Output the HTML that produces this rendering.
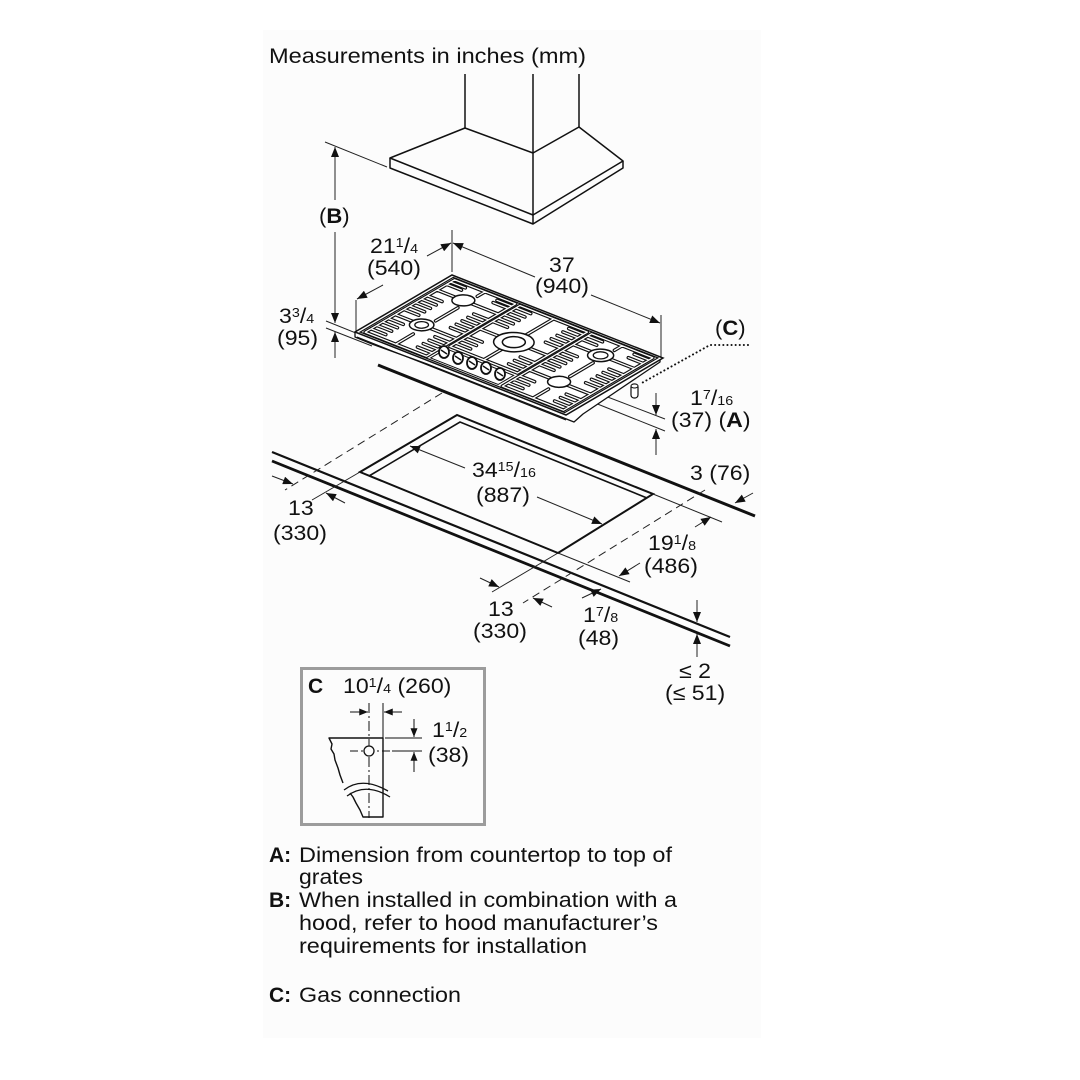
<!DOCTYPE html>
<html><head><meta charset="utf-8"><style>
html,body{margin:0;padding:0;background:#fff;}
svg{display:block;}
text{font-family:"Liberation Sans",Arial,sans-serif;font-size:21px;fill:#111;}
.b{font-weight:bold;}
</style></head><body>
<svg width="1080" height="1080" viewBox="0 0 1080 1080" xmlns="http://www.w3.org/2000/svg">
<defs>
<marker id="a" viewBox="0 0 10 8" refX="10" refY="4" markerWidth="11" markerHeight="8" markerUnits="userSpaceOnUse" orient="auto"><path d="M0,0L10,4L0,8z" fill="#111"/></marker>
<marker id="s" viewBox="0 0 10 8" refX="10" refY="4" markerWidth="9" markerHeight="7" markerUnits="userSpaceOnUse" orient="auto"><path d="M0,0L10,4L0,8z" fill="#111"/></marker>
</defs>
<rect x="263" y="30" width="498" height="1008" fill="#fcfcfc"/>

<!-- Title -->
<text x="269" y="63" textLength="317" lengthAdjust="spacingAndGlyphs">Measurements in inches (mm)</text>

<!-- Hood -->
<g stroke="#111" stroke-width="1.5" fill="none" stroke-linejoin="round">
<line x1="465" y1="74" x2="465" y2="128"/>
<line x1="533" y1="74" x2="533" y2="224"/>
<line x1="579" y1="74" x2="579" y2="127"/>
<path d="M465,128 L390,158 L533,215 L623,161 L579,127"/>
<path d="M465,128 L533,153 L579,127"/>
<path d="M390,158 V168 L533,224 L623,168 V161"/>
</g>

<!-- Dimension lines (upper) -->
<g stroke="#222" stroke-width="1" fill="none">
<line x1="325" y1="142" x2="387" y2="167"/>
<line x1="335" y1="200" x2="335" y2="147" marker-end="url(#a)"/>
<line x1="335" y1="232" x2="335" y2="323" marker-end="url(#a)"/>
<line x1="335" y1="358" x2="335" y2="332" marker-end="url(#a)"/>
<line x1="326" y1="321" x2="428" y2="362"/>
<line x1="326" y1="328" x2="372" y2="346"/>
<line x1="452" y1="230" x2="452" y2="272"/>
<line x1="356" y1="300" x2="356" y2="331"/>
<line x1="383" y1="285" x2="357" y2="299" marker-end="url(#a)"/>
<line x1="427" y1="256" x2="451" y2="243" marker-end="url(#a)"/>
<line x1="535" y1="277" x2="453" y2="243" marker-end="url(#a)"/>
<line x1="591" y1="295" x2="660" y2="323" marker-end="url(#a)"/>
<line x1="661" y1="315" x2="661" y2="358"/>
<line x1="605" y1="396" x2="665" y2="419"/>
<line x1="595" y1="403" x2="665" y2="431"/>
<line x1="656" y1="393" x2="656" y2="415" marker-end="url(#a)"/>
<line x1="656" y1="455" x2="656" y2="429" marker-end="url(#a)"/>
</g>

<!-- Cooktop body -->
<path d="M355,332 L355,337 L372,344 L427,364 L574,422 L583,414 L660,362 L660,357 Z" fill="#fff" stroke="#111" stroke-width="1.3" stroke-linejoin="round"/>
<path d="M357,337 L566,420" stroke="#111" stroke-width="1" fill="none"/>

<!-- Cooktop top -->
<g transform="matrix(2.11,0.83,0.97,-0.57,355,332)" fill="none" stroke="#111">
<path d="M0,0H100V100H0Z" fill="#fff" stroke-width="1.5" vector-effect="non-scaling-stroke"/>
<path d="M1.5,2H98.5V98H1.5Z" stroke-width="1.2" vector-effect="non-scaling-stroke"/>
<path d="M34,4H66V20H34Z" stroke-width="1" vector-effect="non-scaling-stroke"/>
<g stroke-linecap="round" stroke-linejoin="round">
<path stroke="#111" stroke-width="3.6" vector-effect="non-scaling-stroke" d="M3,4H32V96H3Z M3,35H32 M3,78H32 M17.5,45V68 M17.5,4V22 M17.5,88V96
 M3,10H10 M3,16H10 M3,22H10 M3,28H10 M3,44H10 M3,50H10 M3,56H10 M3,62H10 M3,68H10 M3,88H10 M3,92H10
 M32,10H25 M32,16H25 M32,22H25 M32,28H25 M32,44H25 M32,50H25 M32,56H25 M32,62H25 M32,68H25 M32,88H25 M32,92H25"/>
<path stroke="#fff" stroke-width="1.3" vector-effect="non-scaling-stroke" d="M3,4H32V96H3Z M3,35H32 M3,78H32 M17.5,45V68 M17.5,4V22 M17.5,88V96
 M3,10H10 M3,16H10 M3,22H10 M3,28H10 M3,44H10 M3,50H10 M3,56H10 M3,62H10 M3,68H10 M3,88H10 M3,92H10
 M32,10H25 M32,16H25 M32,22H25 M32,28H25 M32,44H25 M32,50H25 M32,56H25 M32,62H25 M32,68H25 M32,88H25 M32,92H25"/>
<path stroke="#111" stroke-width="3.6" vector-effect="non-scaling-stroke" d="M34,24H66V96H34Z M34,55H66 M50,24V96
 M34,30H41 M34,36H41 M34,42H41 M34,68H41 M34,74H41 M34,80H41 M34,86H41 M34,92H41
 M66,30H59 M66,36H59 M66,42H59 M66,68H59 M66,74H59 M66,80H59 M66,86H59 M66,92H59"/>
<path stroke="#fff" stroke-width="1.3" vector-effect="non-scaling-stroke" d="M34,24H66V96H34Z M34,55H66 M50,24V96
 M34,30H41 M34,36H41 M34,42H41 M34,68H41 M34,74H41 M34,80H41 M34,86H41 M34,92H41
 M66,30H59 M66,36H59 M66,42H59 M66,68H59 M66,74H59 M66,80H59 M66,86H59 M66,92H59"/>
<path stroke="#111" stroke-width="3.6" vector-effect="non-scaling-stroke" d="M68,4H97V96H68Z M68,32H97 M68,77H97 M82.5,42V66 M82.5,4V20 M82.5,88V96
 M68,10H75 M68,16H75 M68,22H75 M68,42H75 M68,48H75 M68,54H75 M68,60H75 M68,66H75 M68,86H75 M68,92H75
 M97,10H90 M97,16H90 M97,22H90 M97,42H90 M97,48H90 M97,54H90 M97,60H90 M97,66H90 M97,86H90 M97,92H90"/>
<path stroke="#fff" stroke-width="1.3" vector-effect="non-scaling-stroke" d="M68,4H97V96H68Z M68,32H97 M68,77H97 M82.5,42V66 M82.5,4V20 M82.5,88V96
 M68,10H75 M68,16H75 M68,22H75 M68,42H75 M68,48H75 M68,54H75 M68,60H75 M68,66H75 M68,86H75 M68,92H75
 M97,10H90 M97,16H90 M97,22H90 M97,42H90 M97,48H90 M97,54H90 M97,60H90 M97,66H90 M97,86H90 M97,92H90"/>
</g>
<g fill="#fff">
<ellipse cx="15.5" cy="35" rx="4.5" ry="8" stroke-width="1.5" vector-effect="non-scaling-stroke"/>
<ellipse cx="15.5" cy="78" rx="4.2" ry="7.5" stroke-width="1.5" vector-effect="non-scaling-stroke"/>
<ellipse cx="50" cy="55" rx="7.5" ry="13" stroke-width="1.5" vector-effect="non-scaling-stroke"/>
<ellipse cx="50" cy="55" rx="4.2" ry="7.5" stroke-width="1.5" vector-effect="non-scaling-stroke"/>
<ellipse cx="82" cy="32" rx="4.2" ry="7.5" stroke-width="1.5" vector-effect="non-scaling-stroke"/>
<ellipse cx="81" cy="77" rx="4.8" ry="8.5" stroke-width="1.5" vector-effect="non-scaling-stroke"/>
<ellipse cx="15.5" cy="35" rx="2.5" ry="4.5" stroke-width="1.3" vector-effect="non-scaling-stroke"/>
<ellipse cx="81" cy="77" rx="2.7" ry="4.8" stroke-width="1.3" vector-effect="non-scaling-stroke"/>
</g>
</g>
<!-- Knobs -->
<g fill="#fff" stroke="#111" stroke-width="1.8">
<ellipse cx="444" cy="352" rx="5" ry="6"/>
<ellipse cx="458" cy="358" rx="5" ry="6"/>
<ellipse cx="472" cy="363" rx="5" ry="6"/>
<ellipse cx="486" cy="368" rx="5" ry="6"/>
<ellipse cx="500" cy="374" rx="5" ry="6"/>
</g>
<g stroke="#111" stroke-width="1.4">
<line x1="441" y1="350" x2="447" y2="354"/>
<line x1="455" y1="356" x2="461" y2="360"/>
<line x1="469" y1="361" x2="475" y2="365"/>
<line x1="483" y1="366" x2="489" y2="370"/>
<line x1="497" y1="372" x2="503" y2="376"/>
</g>

<!-- Gas connection -->
<rect x="631" y="384" width="7" height="14" rx="3" fill="#fff" stroke="#111" stroke-width="1.2"/>
<ellipse cx="634.5" cy="386" rx="3.5" ry="2" fill="#fff" stroke="#111" stroke-width="1"/>
<path d="M748,345 H710 L640,384" fill="none" stroke="#111" stroke-width="2" stroke-linecap="round" stroke-dasharray="0.1 4"/>

<!-- Counter -->
<g stroke="#111" fill="none">
<line x1="378" y1="365" x2="755" y2="516" stroke-width="3"/>
<line x1="272" y1="452" x2="730" y2="637" stroke-width="2.2"/>
<line x1="272" y1="461" x2="730" y2="646" stroke-width="2.8"/>
<path d="M360,472 L457,415 L653,494 L558,553Z" stroke-width="2"/>
<path d="M369,476 L460,422 L647,498" stroke-width="1.6"/>
</g>

<!-- Lower dims -->
<g stroke="#222" stroke-width="1" fill="none">
<line x1="442" y1="393" x2="285" y2="490" stroke-dasharray="8 5"/>
<line x1="705" y1="490" x2="523" y2="603" stroke-dasharray="8 5"/>
<line x1="360" y1="472" x2="312" y2="500"/>
<line x1="558" y1="553" x2="492" y2="592"/>
<line x1="558" y1="553" x2="630" y2="582"/>
<line x1="653" y1="494" x2="722" y2="522"/>
<line x1="465" y1="468" x2="410" y2="446" marker-end="url(#a)"/>
<line x1="537" y1="497" x2="602" y2="524" marker-end="url(#a)"/>
<line x1="753" y1="493" x2="735" y2="503" marker-end="url(#a)"/>
<line x1="272" y1="476" x2="293" y2="484" marker-end="url(#a)"/>
<line x1="345" y1="503" x2="326" y2="493" marker-end="url(#a)"/>
<line x1="695" y1="527" x2="711" y2="517" marker-end="url(#a)"/>
<line x1="640" y1="563" x2="619" y2="576" marker-end="url(#a)"/>
<line x1="480" y1="578" x2="499" y2="587" marker-end="url(#a)"/>
<line x1="552" y1="607" x2="533" y2="598" marker-end="url(#a)"/>
<line x1="582" y1="598" x2="601" y2="589" marker-end="url(#a)"/>
<line x1="697" y1="600" x2="697" y2="622" marker-end="url(#a)"/>
<line x1="697" y1="657" x2="697" y2="634" marker-end="url(#a)"/>
</g>

<!-- Labels -->
<text transform="translate(319,223) scale(1.05,1)">(<tspan class="b">B</tspan>)</text>
<text transform="translate(370,253) scale(1.1,1)">21<tspan font-size="13" dy="-6">1</tspan><tspan dy="6">/</tspan><tspan font-size="13">4</tspan></text>
<text transform="translate(367,275) scale(1.1,1)">(540)</text>
<text transform="translate(549,272) scale(1.1,1)">37</text>
<text transform="translate(535,293) scale(1.1,1)">(940)</text>
<text transform="translate(279,323) scale(1.1,1)">3<tspan font-size="13" dy="-6">3</tspan><tspan dy="6">/</tspan><tspan font-size="13">4</tspan></text>
<text transform="translate(277,345) scale(1.1,1)">(95)</text>
<text transform="translate(715,335) scale(1.05,1)">(<tspan class="b">C</tspan>)</text>
<text transform="translate(690,405) scale(1.1,1)">1<tspan font-size="13" dy="-6">7</tspan><tspan dy="6">/</tspan><tspan font-size="13">16</tspan></text>
<text transform="translate(671,427) scale(1.1,1)">(37) (<tspan class="b">A</tspan>)</text>
<text transform="translate(472,477) scale(1.1,1)">34<tspan font-size="13" dy="-6">15</tspan><tspan dy="6">/</tspan><tspan font-size="13">16</tspan></text>
<text transform="translate(476,502) scale(1.1,1)">(887)</text>
<text transform="translate(690,480) scale(1.1,1)">3 (76)</text>
<text transform="translate(288,515) scale(1.1,1)">13</text>
<text transform="translate(273,540) scale(1.1,1)">(330)</text>
<text transform="translate(648,550) scale(1.1,1)">19<tspan font-size="13" dy="-6">1</tspan><tspan dy="6">/</tspan><tspan font-size="13">8</tspan></text>
<text transform="translate(644,573) scale(1.1,1)">(486)</text>
<text transform="translate(488,616) scale(1.1,1)">13</text>
<text transform="translate(473,638) scale(1.1,1)">(330)</text>
<text transform="translate(583,622) scale(1.1,1)">1<tspan font-size="13" dy="-6">7</tspan><tspan dy="6">/</tspan><tspan font-size="13">8</tspan></text>
<text transform="translate(578,645) scale(1.1,1)">(48)</text>
<text transform="translate(679,678) scale(1.1,1)">≤ 2</text>
<text transform="translate(665,700) scale(1.1,1)">(≤ 51)</text>

<!-- Inset C -->
<rect x="301.5" y="668.5" width="183" height="156" fill="none" stroke="#9c9c9c" stroke-width="3"/>
<text class="b" x="308" y="693">C</text>
<text transform="translate(343,693) scale(1.1,1)">10<tspan font-size="13" dy="-6">1</tspan><tspan dy="6">/</tspan><tspan font-size="13">4</tspan> (260)</text>
<g stroke="#111" fill="none" stroke-width="1">
<line x1="369" y1="703" x2="369" y2="818" stroke-dasharray="10 3 2 3"/>
<line x1="383" y1="703" x2="383" y2="738"/>
<line x1="350" y1="712" x2="368" y2="712" marker-end="url(#s)"/>
<line x1="402" y1="712" x2="384" y2="712" marker-end="url(#s)"/>
<path d="M343,783 L340,775 L338,768 L335,760 L334,754 L331,749 L332,744 L329,738 H383 V817 H363 L360,810 L356,803 L353,797 L350,793" stroke-width="1.4" stroke-linejoin="round"/>
<path d="M344,790 Q362,776 388,791" stroke-width="1.3"/>
<path d="M347,796 Q366,782 390,797" stroke-width="1.3"/>
<line x1="350" y1="751" x2="392" y2="751" stroke-dasharray="8 3 2 3"/>
<line x1="385" y1="738" x2="422" y2="738"/>
<line x1="392" y1="751" x2="422" y2="751"/>
<line x1="414" y1="719" x2="414" y2="737" marker-end="url(#s)"/>
<line x1="414" y1="772" x2="414" y2="752" marker-end="url(#s)"/>
<circle cx="369" cy="751" r="5" fill="#fcfcfc" stroke-width="1.3"/>
</g>
<text transform="translate(432,737) scale(1.1,1)">1<tspan font-size="13" dy="-6">1</tspan><tspan dy="6">/</tspan><tspan font-size="13">2</tspan></text>
<text transform="translate(428,762) scale(1.1,1)">(38)</text>

<!-- Legend -->
<text class="b" x="269" y="862">A:</text>
<text x="299" y="862" textLength="373" lengthAdjust="spacingAndGlyphs">Dimension from countertop to top of</text>
<text x="299" y="884" textLength="64" lengthAdjust="spacingAndGlyphs">grates</text>
<text class="b" x="269" y="907">B:</text>
<text x="299" y="907" textLength="378" lengthAdjust="spacingAndGlyphs">When installed in combination with a</text>
<text x="299" y="930" textLength="359" lengthAdjust="spacingAndGlyphs">hood, refer to hood manufacturer’s</text>
<text x="299" y="953" textLength="288" lengthAdjust="spacingAndGlyphs">requirements for installation</text>
<text class="b" x="269" y="1002">C:</text>
<text x="299" y="1002" textLength="162" lengthAdjust="spacingAndGlyphs">Gas connection</text>
</svg>
</body></html>
